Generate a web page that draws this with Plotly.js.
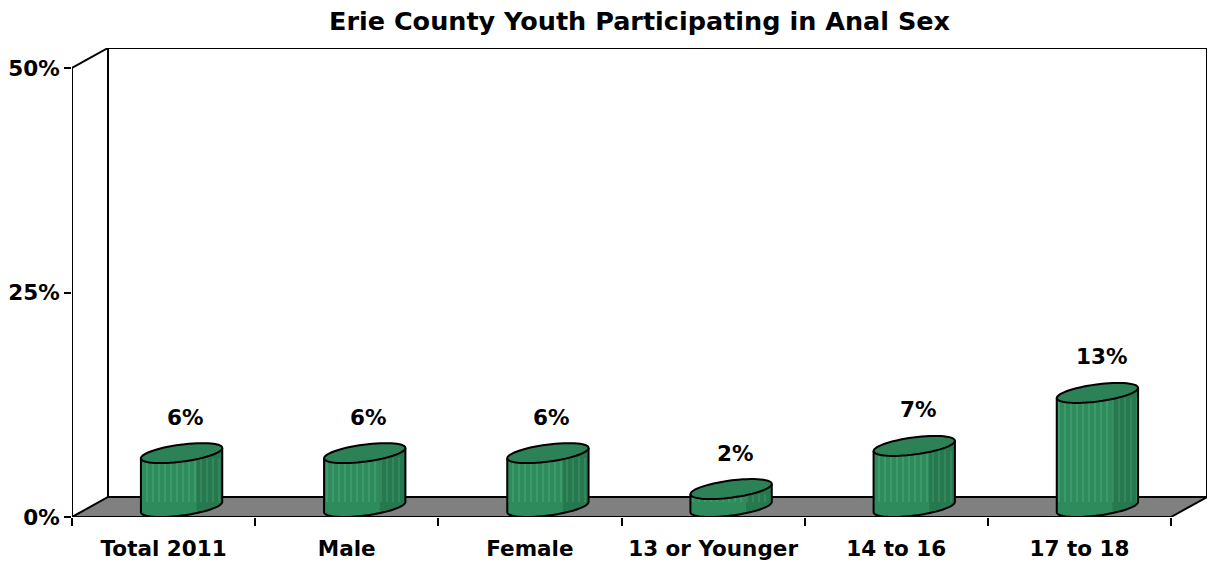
<!DOCTYPE html>
<html>
<head>
<meta charset="utf-8">
<script src="https://cdn.plot.ly/plotly-3.0.1.min.js"></script>
<style>html,body{margin:0;padding:0;background:#fff}#chart{width:1212px;height:562px}</style>
</head>
<body>
<div id="chart"></div>
<script>
// ---- data ----
const categories = ['Total 2011', 'Male', 'Female', '13 or Younger', '14 to 16', '17 to 18'];
const values = [6, 6, 6, 2, 6.8, 12.7];
const yTickVals = [0, 25, 50];
const yTickText = ['0%', '25%', '50%'];
const chartTitle = 'Erie County Youth Participating in Anal Sex';

// ---- geometry / style ----
const W = 1212, H = 562;
const M = {l: 72, r: 5, t: 48, b: 45};
const DEPTH_PX_X = 36, DEPTH_PX_Y = 20;
const plotW = W - M.l - M.r, plotH = H - M.t - M.b;
const n = categories.length;
const yFrontMax = yTickVals[yTickVals.length - 1];
const pxPerCat = (plotW - DEPTH_PX_X) / n;
const pxPerY = (plotH - DEPTH_PX_Y) / yFrontMax;
const DX = DEPTH_PX_X / pxPerCat, DY = DEPTH_PX_Y / pxPerY;
const xRange = [-0.5, -0.5 + plotW / pxPerCat];
const yRange = [0, plotH / pxPerY];

const FONT = 'DejaVu Sans, Arial, sans-serif';
const BODY = '#2e8b5c', TOPC = '#2c8256', FLOOR = '#808080';

// ellipse (pixel units)
const EA = 41, EB = 8.5, TH = 7.5 * Math.PI / 180;
const cT = Math.cos(TH), sT = Math.sin(TH);
function ell(t) { return [EA * Math.cos(t) * cT - EB * Math.sin(t) * sT, EA * Math.cos(t) * sT + EB * Math.sin(t) * cT]; }
const t0 = Math.atan2(-(EB * sT), EA * cT);
const ext = ell(t0)[0], delta = ell(t0)[1];

function P(x, y) { return x.toFixed(5) + ',' + y.toFixed(5); }
function pt(cx, cy, t) { const e = ell(t); return [cx + e[0] / pxPerCat, cy + e[1] / pxPerY]; }
function arc(cx, cy, ta, tb, N) { const out = []; for (let k = 0; k <= N; k++) { out.push(pt(cx, cy, ta + (tb - ta) * k / N)); } return out; }

const shapes = [];
// back wall
shapes.push({type: 'path', xref: 'x', yref: 'y', layer: 'below',
  path: 'M ' + P(-0.5 + DX, DY) + ' L ' + P(-0.5 + DX, yFrontMax + DY) + ' L ' + P(n - 0.5 + DX, yFrontMax + DY) + ' L ' + P(n - 0.5 + DX, DY),
  fillcolor: 'rgba(0,0,0,0)', line: {color: '#000', width: 2}});
// top-left diagonal
shapes.push({type: 'line', xref: 'x', yref: 'y', layer: 'below', x0: -0.5, y0: yFrontMax, x1: -0.5 + DX, y1: yFrontMax + DY, line: {color: '#000', width: 2}});
// floor
shapes.push({type: 'path', xref: 'x', yref: 'y', layer: 'below',
  path: 'M ' + P(-0.5, 0) + ' L ' + P(n - 0.5, 0) + ' L ' + P(n - 0.5 + DX, DY) + ' L ' + P(-0.5 + DX, DY) + ' Z',
  fillcolor: FLOOR, line: {color: '#000', width: 2}});
// front y axis line
shapes.push({type: 'line', xref: 'x', yref: 'y', layer: 'above', x0: -0.5, y0: 0, x1: -0.5, y1: yFrontMax, line: {color: '#000', width: 2}});

const barX = [], barBase = [], barH = [];
const annotations = [];
values.forEach((v, i) => {
  const cx = i + DX / 2, yb = DY / 2, yt = yb + v;
  const tL = t0 + Math.PI, tR = t0 + 2 * Math.PI;
  // silhouette (body fill)
  const lower = arc(cx, yb, tL, tR, 40);
  const upper = arc(cx, yt, t0, t0 + Math.PI, 40);
  const sil = lower.concat(upper);
  shapes.push({type: 'path', xref: 'x', yref: 'y', layer: 'below',
    path: 'M ' + sil.map(p => P(p[0], p[1])).join(' L ') + ' Z', fillcolor: BODY, line: {width: 0}});
  // right-hand shading of the cylinder
  const rs = [pt(cx, yb, t0 + 1.62 * Math.PI)].concat(arc(cx, yb, t0 + 1.62 * Math.PI, tR, 16))
    .concat(arc(cx, yt, t0, t0 + 0.38 * Math.PI, 16).reverse().slice(0, 1))
    .concat([[pt(cx, yt, t0 + 1.62 * Math.PI)[0], pt(cx, yt, t0 + 1.62 * Math.PI)[1]]]);
  shapes.push({type: 'path', xref: 'x', yref: 'y', layer: 'above',
    path: 'M ' + arc(cx, yb, t0 + 1.62 * Math.PI, tR, 16).concat(arc(cx, yt, tR, t0 + 1.62 * Math.PI, 16)).map(p => P(p[0], p[1])).join(' L ') + ' Z',
    fillcolor: 'rgba(0,30,10,0.16)', line: {width: 0}});
  // outline of sides and bottom
  const outl = [pt(cx, yt, tL)].concat(lower).concat([pt(cx, yt, tR)]);
  shapes.push({type: 'path', xref: 'x', yref: 'y', layer: 'above',
    path: 'M ' + outl.map(p => P(p[0], p[1])).join(' L '), fillcolor: 'rgba(0,0,0,0)', line: {color: '#000', width: 2}});
  // top ellipse
  const top = arc(cx, yt, 0, 2 * Math.PI, 60);
  shapes.push({type: 'path', xref: 'x', yref: 'y', layer: 'above',
    path: 'M ' + top.map(p => P(p[0], p[1])).join(' L ') + ' Z', fillcolor: TOPC, line: {color: '#000', width: 2}});
  barX.push(cx);
  barBase.push(yb + delta / pxPerY);
  barH.push(Math.max(0, v - 2 * delta / pxPerY));
  annotations.push({x: cx, y: yt, xref: 'x', yref: 'y', yshift: 36, xshift: 4, showarrow: false,
    text: '<b>' + Math.round(v) + '%</b>', font: {family: FONT, size: 21.5, color: '#000'}});
});

const traces = [{
  type: 'bar', x: barX, y: barH, base: barBase, width: 2 * (ext - 1) / pxPerCat,
  marker: {color: BODY, line: {width: 0},
    pattern: {shape: '|', fgcolor: '#7fd3a6', fgopacity: 0.45, size: 6, solidity: 0.15}},
  hoverinfo: 'skip', showlegend: false
}];

const boundaries = [];
for (let k = 0; k <= n; k++) boundaries.push(k - 0.5);

const layout = {
  width: W, height: H,
  margin: M,
  paper_bgcolor: '#fff', plot_bgcolor: '#fff',
  showlegend: false,
  title: {text: '<b>' + chartTitle + '</b>', font: {family: FONT, size: 25.5, color: '#000'},
    x: 0.5, xref: 'paper', xanchor: 'center', y: 1 - 21 / H, yref: 'container', yanchor: 'middle'},
  xaxis: {range: xRange, showgrid: false, zeroline: false, showline: false,
    tickmode: 'array', tickvals: categories.map((c, i) => i), ticktext: categories.map(c => '<b>' + c + '</b>'),
    ticks: '', ticklabelstandoff: 16,
    tickfont: {family: FONT, size: 21.5, color: '#000'},
    minor: {tickmode: 'array', tickvals: boundaries, ticks: 'outside', ticklen: 8, tickwidth: 2, tickcolor: '#000', showgrid: false}},
  yaxis: {range: yRange, showgrid: false, zeroline: false, showline: false,
    tickmode: 'array', tickvals: yTickVals, ticktext: yTickText.map(t => '<b>' + t + '</b>'),
    ticks: 'outside', ticklen: 7, tickwidth: 2, tickcolor: '#000',
    tickfont: {family: FONT, size: 21.5, color: '#000'}},
  shapes: shapes,
  annotations: annotations,
  bargap: 0
};

Plotly.newPlot('chart', traces, layout, {displayModeBar: false, staticPlot: true});
</script>
</body>
</html>
